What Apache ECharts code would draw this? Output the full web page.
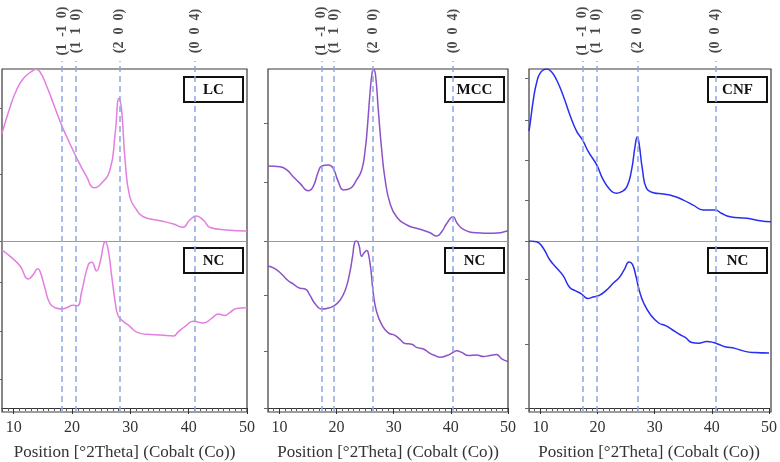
<!DOCTYPE html>
<html>
<head>
<meta charset="utf-8">
<script src="https://cdn.jsdelivr.net/npm/echarts@6/dist/echarts.min.js"></script>
<style>
  html, body { margin: 0; padding: 0; background: #fff; }
  #chart { width: 780px; height: 462px; }
</style>
</head>
<body>
<div id="chart"></div>
<script>
// [2theta, intensity], intensity scaled 0-100 inside each sub-plot
const lcTop = [[8.0,62.6],[9.4,78.1],[10.5,87.8],[11.7,94.6],[13.4,99.4],[13.7,99.8],[14.5,98.4],[15.7,89.7],[16.8,80.0],[18.2,67.4],[19.1,60.6],[20.7,49.0],[22.5,37.4],[23.8,31.0],[24.8,32.6],[26.5,41.3],[27.4,62.6],[28.06,83.0],[28.5,76.2],[29.1,47.1],[29.9,25.8],[31.1,18.0],[32.2,14.1],[35.1,11.8],[37.4,9.9],[39.0,8.0],[40.2,12.2],[41.3,14.5],[42.5,12.2],[43.7,7.8],[46.5,6.4],[50,5.8]];
const lcNc = [[8.0,94.5],[9.4,90.8],[11.1,85.0],[12.5,77.2],[13.4,80.1],[14.1,83.4],[14.5,82.1],[15.4,71.3],[16.2,62.6],[17.1,60.0],[18.2,59.3],[19.1,60.0],[20.1,61.6],[20.9,61.2],[21.7,70.4],[22.8,86.0],[23.4,87.3],[24.2,82.1],[24.8,87.0],[25.4,97.7],[25.7,99.6],[26.2,94.7],[26.8,79.1],[27.4,63.6],[27.9,55.4],[28.8,51.9],[29.9,48.9],[31.1,45.4],[32.8,44.1],[35.1,43.7],[37.4,43.1],[38.2,45.6],[39.4,48.9],[40.8,51.9],[42.5,50.9],[44.0,53.8],[45.1,56.3],[46.2,55.4],[47.1,57.3],[48.2,59.6],[50,60.0]];
const mccTop = [[8.0,43.6],[10.1,43.2],[11.3,41.3],[12.4,37.4],[13.6,33.5],[15.05,29.2],[15.9,31.6],[16.8,40.3],[17.4,43.6],[18.6,44.2],[19.4,42.3],[20.3,34.5],[21.2,29.7],[22.4,30.6],[23.5,35.5],[24.4,41.3],[25.0,52.9],[25.4,66.5],[25.85,85.9],[26.25,98.4],[26.5,100],[26.85,95.5],[27.3,76.2],[27.9,52.9],[28.5,35.5],[29.35,21.9],[30.5,14.1],[32.3,9.3],[34.6,6.8],[36.35,4.8],[37.5,2.9],[38.4,5.4],[39.3,10.3],[40.4,14.1],[41.1,10.3],[42.2,6.8],[44.5,4.8],[47.4,4.5],[50,6.0]];
const mccNc = [[8.0,85.0],[9.2,83.4],[10.4,80.1],[11.55,76.2],[12.4,74.3],[13.6,71.7],[14.5,71.3],[15.35,67.4],[16.2,62.6],[17.4,59.3],[18.3,59.6],[19.55,61.2],[20.6,64.5],[21.5,70.4],[22.2,79.1],[22.8,90.8],[23.2,99.6],[23.5,100],[23.9,97.7],[24.4,90.8],[24.8,92.8],[25.3,94.3],[25.6,91.8],[26.0,83.0],[26.4,69.4],[27.0,57.7],[27.9,49.9],[29.05,45.0],[30.2,43.5],[31.1,41.1],[32.0,38.6],[33.15,38.2],[34.0,36.3],[35.2,35.3],[36.35,32.7],[37.2,31.4],[38.1,30.4],[39.3,31.4],[40.4,33.3],[41.0,34.3],[41.9,33.3],[43.05,31.4],[44.5,31.8],[45.7,30.8],[46.85,31.4],[48.0,32.0],[48.9,29.4],[50,27.9]];
const cnfTop = [[8.0,64.0],[8.2,68.4],[8.75,82.0],[9.3,91.7],[10.0,97.9],[11.1,100],[11.9,98.4],[12.8,93.6],[14.0,83.9],[15.1,73.3],[16.3,63.6],[17.3,58.7],[18.3,51.9],[19.75,44.2],[20.9,35.5],[22.1,29.7],[23.1,27.7],[24.1,28.7],[25.0,31.6],[25.8,41.3],[26.4,54.8],[26.8,60.6],[27.1,56.8],[27.7,41.3],[28.4,30.6],[29.6,28.1],[31.3,27.3],[33.0,26.2],[34.8,23.8],[36.5,20.9],[38.25,18.0],[40.3,18.0],[41.4,16.1],[42.9,14.1],[45.8,13.2],[48.1,11.8],[50,11.2]];
const cnfNc = [[8.0,100],[9.3,99.6],[10.5,95.7],[11.6,88.9],[12.8,84.0],[14.0,79.1],[15.1,72.3],[16.0,70.4],[17.15,68.4],[18.3,65.5],[19.2,66.5],[20.3,67.4],[21.5,70.4],[22.6,74.3],[23.8,78.2],[24.7,83.0],[25.5,87.5],[26.1,86.0],[26.7,79.1],[27.3,70.4],[28.1,62.6],[29.3,55.7],[30.7,50.9],[31.9,49.3],[33.0,47.0],[34.2,44.4],[35.4,42.1],[36.5,39.2],[37.7,38.8],[39.1,39.8],[40.3,39.2],[41.15,38.2],[42.3,36.7],[44.05,35.7],[45.8,33.9],[47.5,33.2],[50,32.9]];

// reflection positions (dashed lines)
const hklNames = ['(1  -1  0)', '(1  1  0)', '(2  0  0)', '(0  0  4)'];
const lcPeaks = [18.3, 20.7, 28.1, 41.1];
const mccPeaks = [17.4, 19.55, 26.4, 40.4];
const cnfPeaks = [17.3, 19.7, 26.85, 40.4];

// axis ticks
const xTicks = [10, 20, 30, 40, 50];
const lcTopTicks = [0, 39, 77.3];
const lcNcTicks = [17, 46.2, 75.4];
const mccTopTicks = [0, 34.3, 68.6];
const mccNcTicks = [0, 33.9, 67.8];
const cnfTopTicks = [0, 23.8, 47.1, 70.3, 94.8];
const cnfNcTicks = [0, 38, 77.2];

const FONT = '"Liberation Serif", "Times New Roman", serif';
const TOP = 69, MID = 241, BOT = 412;
const X_MIN = 8, X_MAX = 50;

const panels = [
  { left: 2, width: 245, color: '#e47ee0', data: [lcTop, lcNc], ticks: [lcTopTicks, lcNcTicks], peaks: lcPeaks, tags: ['LC', 'NC'] },
  { left: 268, width: 240, color: '#8c53c6', data: [mccTop, mccNc], ticks: [mccTopTicks, mccNcTicks], peaks: mccPeaks, tags: ['MCC', 'NC'] },
  { left: 529, width: 242, color: '#2a2ef0', data: [cnfTop, cnfNc], ticks: [cnfTopTicks, cnfNcTicks], peaks: cnfPeaks, tags: ['CNF', 'NC'] }
];

const grid = [], xAxis = [], yAxis = [], series = [], graphic = [];

function hiddenAxes(gi, yMax) {
  xAxis.push({ gridIndex: gi, type: 'value', min: X_MIN, max: X_MAX, show: false });
  yAxis.push({ gridIndex: gi, type: 'value', min: 0, max: yMax, show: false });
}

function tagBox(text, x, y) {
  graphic.push({
    type: 'group', x: x, y: y, z: 100,
    children: [
      { type: 'rect', shape: { x: 0, y: 0, width: 59, height: 25 }, style: { fill: '#fff', stroke: '#111', lineWidth: 2 } },
      { type: 'text', style: { text: text, x: 29.5, y: 13, align: 'center', verticalAlign: 'middle', font: 'bold 15px ' + FONT, fill: '#111' } }
    ]
  });
}

function curve(data, color) {
  return {
    type: 'line', xAxisIndex: xAxis.length - 1, yAxisIndex: yAxis.length - 1,
    data: data, showSymbol: false, smooth: 0.5,
    lineStyle: { color: color, width: 1.5 }, silent: true, z: 3
  };
}

panels.forEach(p => {
  // outer frame
  grid.push({ left: p.left, width: p.width, top: TOP, height: BOT - TOP, show: true, borderColor: '#3a3a3a', borderWidth: 1.2 });
  hiddenAxes(grid.length - 1, 1);

  // upper pattern
  grid.push({ left: p.left, width: p.width, top: TOP, height: MID - TOP });
  let gi = grid.length - 1;
  xAxis.push({
    gridIndex: gi, type: 'value', min: X_MIN, max: X_MAX, position: 'bottom',
    axisLine: { show: true, lineStyle: { color: '#9a9a9a', width: 1 } },
    axisTick: { show: false }, axisLabel: { show: false }, splitLine: { show: false }
  });
  yAxis.push({
    gridIndex: gi, type: 'value', min: 0, max: 100,
    axisLine: { show: false }, axisLabel: { show: false }, splitLine: { show: false },
    axisTick: { show: true, customValues: p.ticks[0], length: 4, lineStyle: { color: '#666' } }
  });
  series.push(curve(p.data[0], p.color));

  // lower pattern (NC)
  grid.push({ left: p.left, width: p.width, top: MID, height: BOT - MID });
  gi = grid.length - 1;
  yAxis.push({
    gridIndex: gi, type: 'value', min: 0, max: 100,
    axisLine: { show: false }, axisLabel: { show: false }, splitLine: { show: false },
    axisTick: { show: true, customValues: p.ticks[1], length: 4, lineStyle: { color: '#666' } }
  });
  xAxis.push({
    gridIndex: gi, type: 'value', min: X_MIN, max: X_MAX, interval: 1, position: 'bottom',
    axisLine: { show: true, lineStyle: { color: '#333', width: 1.2 } },
    axisTick: { show: true, length: 3, lineStyle: { color: '#555' } },
    axisLabel: { show: false }, splitLine: { show: false }
  });
  series.push(curve(p.data[1], p.color));
  xAxis.push({
    gridIndex: gi, type: 'value', min: X_MIN, max: X_MAX, position: 'bottom',
    axisLine: { show: false }, splitLine: { show: false },
    axisTick: { show: true, customValues: xTicks, length: 6, lineStyle: { color: '#333' } },
    axisLabel: { customValues: xTicks, margin: 12, fontFamily: FONT, fontSize: 16, color: '#333' },
    name: 'Position [°2Theta] (Cobalt (Co))', nameLocation: 'middle', nameGap: 36,
    nameTextStyle: { fontFamily: FONT, fontSize: 17, color: '#333' }
  });

  // dashed reflection lines
  grid.push({ left: p.left, width: p.width, top: 61, height: BOT - 61 });
  hiddenAxes(grid.length - 1, 1);
  series.push({
    type: 'line', xAxisIndex: xAxis.length - 1, yAxisIndex: yAxis.length - 1, data: [],
    markLine: {
      silent: true, symbol: 'none', animation: false, label: { show: false },
      lineStyle: { color: '#8ea6e4', type: [6, 4], width: 1.5 },
      data: p.peaks.map(v => ({ xAxis: v }))
    }
  });

  // hkl labels above the frame
  grid.push({ left: p.left, width: p.width, top: 4, height: 54 });
  hiddenAxes(grid.length - 1, 1);
  series.push({
    type: 'scatter', xAxisIndex: xAxis.length - 1, yAxisIndex: yAxis.length - 1,
    symbolSize: 1, itemStyle: { color: 'transparent' }, silent: true,
    data: p.peaks.map((v, i) => ({ value: [v, 0.5], name: hklNames[i] })),
    label: {
      show: true, position: 'inside', rotate: 90, formatter: '{b}',
      fontFamily: FONT, fontWeight: 'bold', fontSize: 14, color: '#1a1a1a'
    }
  });

  const right = p.left + p.width;
  tagBox(p.tags[0], right - 63, TOP + 8);
  tagBox(p.tags[1], right - 63, MID + 7);
});

const chart = echarts.init(document.getElementById('chart'));
chart.setOption({
  animation: false,
  grid: grid,
  xAxis: xAxis,
  yAxis: yAxis,
  series: series,
  graphic: graphic
});
</script>
</body>
</html>
